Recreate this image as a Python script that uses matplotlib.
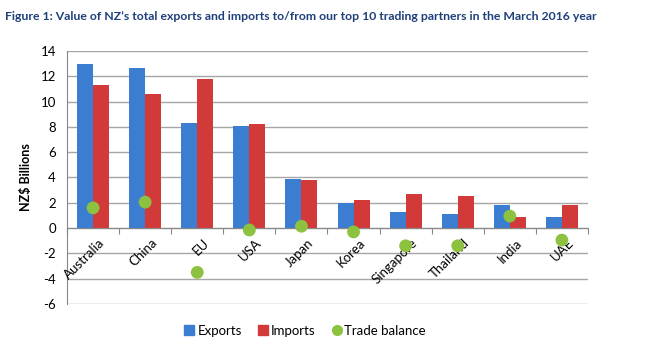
import matplotlib
matplotlib.use("Agg")
import matplotlib.pyplot as plt
from matplotlib.lines import Line2D
import numpy as np

categories = ["Australia", "China", "EU", "USA", "Japan", "Korea", "Singapore", "Thailand", "India", "UAE"]
exports = [13.0, 12.65, 8.3, 8.05, 3.9, 2.0, 1.27, 1.13, 1.85, 0.87]
imports = [11.3, 10.6, 11.8, 8.25, 3.8, 2.2, 2.7, 2.55, 0.87, 1.85]
balance = [1.6, 2.05, -3.5, -0.15, 0.15, -0.3, -1.4, -1.4, 0.95, -0.95]
yticks = [-6, -4, -2, 0, 2, 4, 6, 8, 10, 12, 14]

plt.rcParams['font.family'] = ['Lato', 'DejaVu Sans']

fig = plt.figure(figsize=(6.59, 3.54), dpi=100)
ax = fig.add_axes([0.1017, 0.1412, 0.7905, 0.7148])

x = np.arange(len(categories))
w = 0.307
blue = '#3b7dd0'
red = '#d23a3a'
green = '#8cc23f'
ax.bar(x - w/2, exports, width=w, color=blue, zorder=3)
ax.bar(x + w/2, imports, width=w, color=red, zorder=3)
ax.scatter(x, balance, s=85, color=green, zorder=4, edgecolors='none')

ax.set_xlim(-0.5, len(categories) - 0.5)
ax.set_ylim(-6, 14)
ax.set_yticks(yticks)
ax.set_yticklabels([str(v) for v in yticks], fontsize=9.5)
ax.yaxis.grid(True, color='#a6a6a6', linewidth=1, zorder=0)
ax.set_axisbelow(True)

for s in ['top', 'right']:
    ax.spines[s].set_visible(False)
ax.spines['left'].set_color('#888888')
ax.spines['bottom'].set_position(('data', 0))
ax.spines['bottom'].set_color('#888888')
ax.spines['bottom'].set_zorder(3)
ax.set_xticks(np.arange(-0.5, len(categories), 1.0))
ax.set_xticklabels([])
ax.tick_params(axis='x', direction='out', length=4, color='#888888')
ax.tick_params(axis='y', length=0, pad=8)

for i, name in enumerate(categories):
    ax.annotate(name, xy=(i, 0), xytext=(4, -6), textcoords='offset points',
                rotation=45, ha='right', va='top', rotation_mode='anchor', fontsize=9.5)

ax.set_ylabel('NZ$ Billions', fontsize=9, fontweight='bold', labelpad=6)

fig.text(0.008, 0.952, 'Figure 1: Value of NZ\u2019s total exports and imports to/from our top 10 trading partners in the March 2016 year',
         fontsize=8.8, fontweight='bold', color='#1f3f7a', ha='left', va='center')

handles = [
    Line2D([], [], linestyle='none', marker='s', markersize=6.5, color=blue),
    Line2D([], [], linestyle='none', marker='s', markersize=6.5, color=red),
    Line2D([], [], linestyle='none', marker='o', markersize=7, color=green),
]
fig.legend(handles, ['Exports', 'Imports', 'Trade balance'], loc='center',
           bbox_to_anchor=(0.463, 0.065), ncol=3, frameon=False,
           fontsize=9.5, handlelength=0.8, handletextpad=0.2, columnspacing=1.2)

fig.savefig('out.png', dpi=100)
